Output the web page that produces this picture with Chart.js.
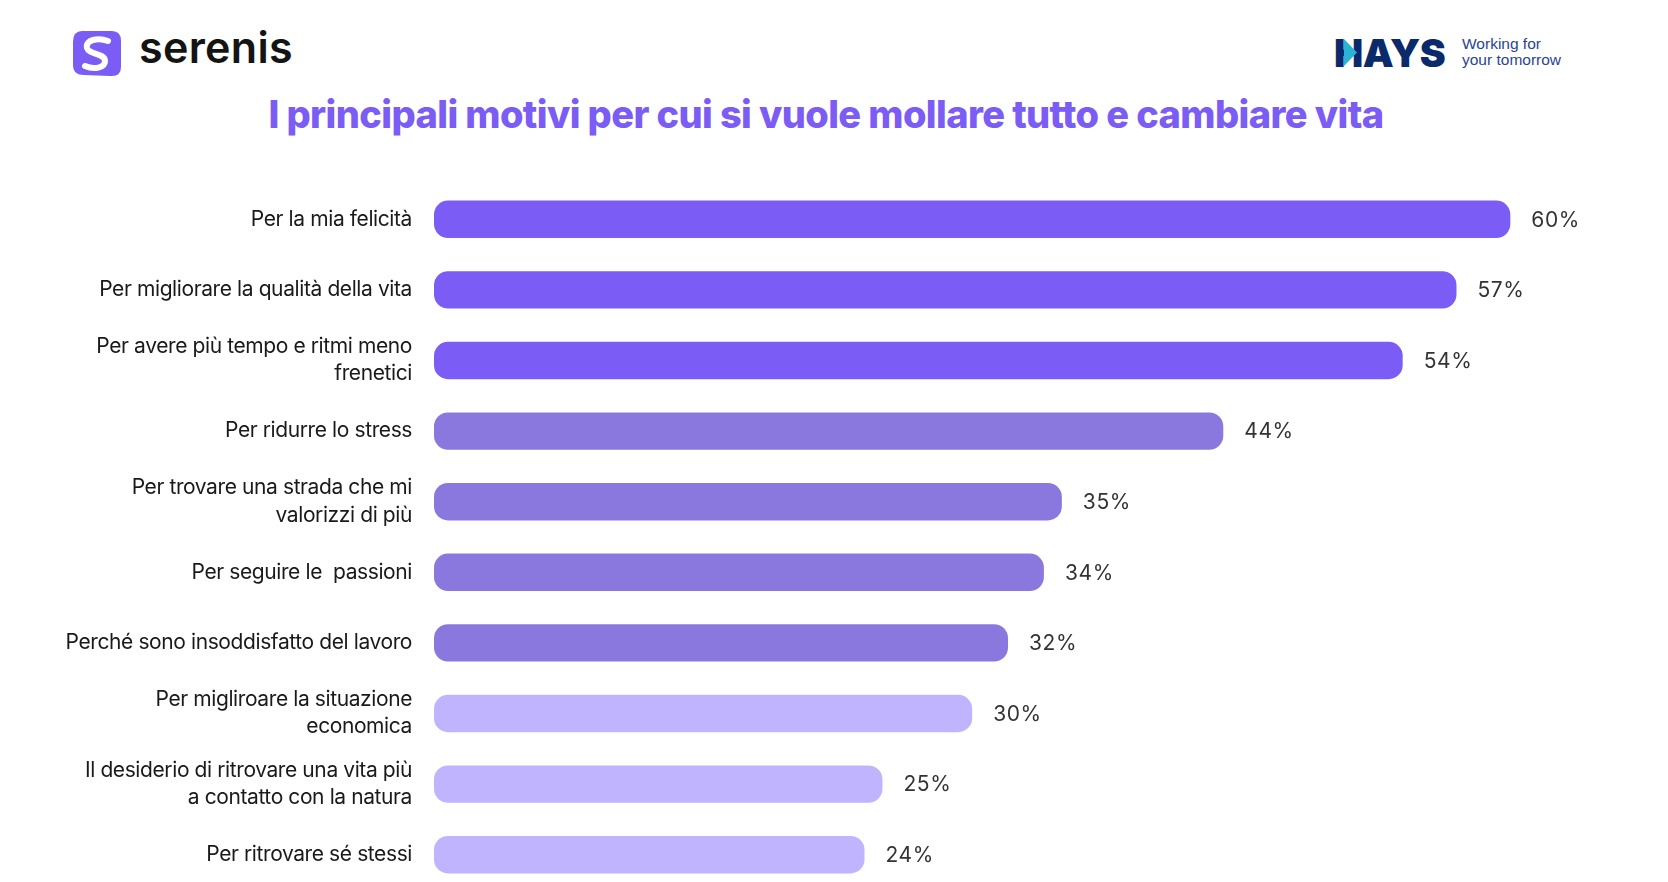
<!DOCTYPE html>
<html lang="it">
<head>
<meta charset="utf-8">
<title>I principali motivi per cui si vuole mollare tutto e cambiare vita</title>
<script src="https://cdn.jsdelivr.net/npm/chart.js@4.4.1/dist/chart.umd.min.js"></script>
<style>
  html, body { margin: 0; padding: 0; background: #fff; overflow: hidden; }
  body { width: 1668px; height: 882px; position: relative; font-family: Inter, "Noto Sans", sans-serif; }
  .logo-serenis { position: absolute; left: 72px; top: 29px; }
  .serenis-text { position: absolute; left: 139px; top: 22px; font-size: 43px; font-weight: 600; color: #141414; line-height: 50px; letter-spacing: 0.3px; }
  .hays { position: absolute; left: 1330px; top: 30px; }
  .hays-tag { position: absolute; left: 1462px; top: 36px; font-size: 15.5px; line-height: 16px; color: #2a4590; font-family: "Liberation Sans", Arial, sans-serif; }
  .title { position: absolute; left: 0; top: 95px; width: 1652px; text-align: center; font-size: 38px; line-height: 38px; font-weight: 800; color: #7b5cf5; letter-spacing: -0.6px; }
  .chart-box { position: absolute; left: 0; top: 150px; width: 1668px; height: 745px; }
  .chart-box canvas { display: block; }
</style>
</head>
<body>

<svg class="logo-serenis" width="50" height="49" viewBox="0 0 50 49">
  <path d="M10 2 H40 Q49 2 49 12 V38 Q49 48 38 47 L12 46 Q1 46 1 36 V13 Q1 2 10 2 Z" fill="#7b5cf5"/>
  <path d="M36 12 C26 8 13 11 15 19 C17 26 33 24 33 32 C33 39 22 41 13 37" fill="none" stroke="#fff" stroke-width="6" stroke-linecap="round"/>
</svg>
<div class="serenis-text">serenis</div>

<svg class="hays" width="125" height="42" viewBox="0 0 125 42">
  <text x="4" y="37" font-family="Inter" font-weight="900" font-size="39" fill="#0b2a6b" letter-spacing="-0.5">HAYS</text>
  <polygon points="14,9 14,36 27,22.5" fill="#2bb3d6"/>
</svg>
<div class="hays-tag">Working for<br>your tomorrow</div>

<div class="title">I principali motivi per cui si vuole mollare tutto e cambiare vita</div>

<div class="chart-box"><canvas id="motivi" width="1668" height="745"></canvas></div>

<script>
const categories = [
  'Per la mia felicità',
  'Per migliorare la qualità della vita',
  ['Per avere più tempo e ritmi meno', 'frenetici'],
  'Per ridurre lo stress',
  ['Per trovare una strada che mi', 'valorizzi di più'],
  'Per seguire le  passioni',
  'Perché sono insoddisfatto del lavoro',
  ['Per migliroare la situazione', 'economica'],
  ['Il desiderio di ritrovare una vita più', 'a contatto con la natura'],
  'Per ritrovare sé stessi'
];
const values = [60, 57, 54, 44, 35, 34, 32, 30, 25, 24];

// tre tonalità: prime tre, quattro centrali, ultime tre
const barColors = [
  '#7b5cf5', '#7b5cf5', '#7b5cf5',
  '#8b78de', '#8b78de', '#8b78de', '#8b78de',
  '#c0b3ff', '#c0b3ff', '#c0b3ff'
];

// testo un po' più stretto per le etichette dell'asse
const tightText = {
  id: 'tightText',
  beforeDraw(chart) {
    chart.ctx.letterSpacing = '-0.4px';
  }
};

// percentuali alla fine di ogni barra
const valueLabels = {
  id: 'valueLabels',
  afterDatasetsDraw(chart) {
    const ctx = chart.ctx;
    const meta = chart.getDatasetMeta(0);
    ctx.save();
    ctx.font = '400 21px Inter';
    ctx.fillStyle = '#333333';
    ctx.textAlign = 'left';
    ctx.textBaseline = 'middle';
    ctx.letterSpacing = '0.6px';
    meta.data.forEach((bar, i) => {
      ctx.fillText(values[i] + '%', bar.x + 21, bar.y + 1);
    });
    ctx.restore();
  }
};

new Chart(document.getElementById('motivi'), {
  type: 'bar',
  data: {
    labels: categories,
    datasets: [{
      data: values,
      backgroundColor: barColors,
      borderRadius: 14,
      borderSkipped: false,
      barPercentage: 0.53,
      categoryPercentage: 1
    }]
  },
  plugins: [tightText, valueLabels],
  options: {
    indexAxis: 'y',
    responsive: false,
    animation: false,
    layout: { padding: { top: 34, bottom: 5, left: 0, right: 68 } },
    plugins: {
      legend: { display: false },
      tooltip: { enabled: false }
    },
    scales: {
      x: {
        display: false,
        min: 0,
        max: 65
      },
      y: {
        grid: { display: false, drawTicks: false },
        border: { display: false },
        ticks: {
          padding: 22,
          color: '#1a1a1a',
          font: { family: 'Inter', size: 21, lineHeight: 1.3 }
        },
        afterFit(scale) {
          scale.width = 434;
          scale.paddingTop = 0;
          scale.paddingBottom = 0;
        }
      }
    }
  }
});
</script>
</body>
</html>
